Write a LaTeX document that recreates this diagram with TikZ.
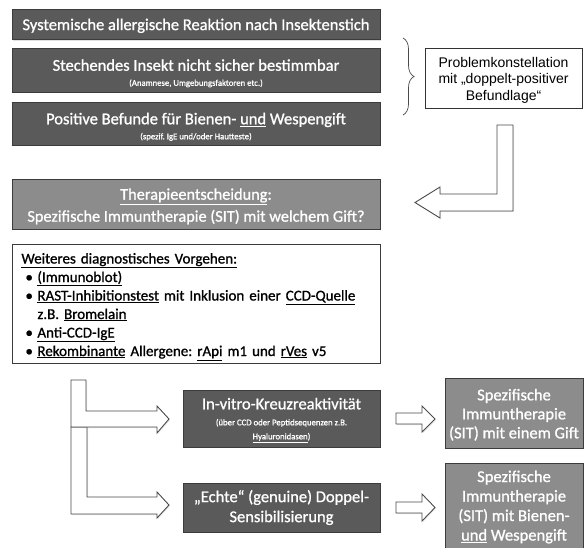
\documentclass[tikz,border=0pt]{standalone}
\usepackage{fontspec}
\setmainfont{Carlito}[FakeBold=1]
\newfontfamily\helv{Liberation Sans}
\usetikzlibrary{shadows,decorations.pathreplacing}
\definecolor{boxdark}{HTML}{5A5A5A}
\definecolor{boxlight}{HTML}{8C8C8C}
\definecolor{boxedge}{HTML}{3C3C3C}
\definecolor{arrowedge}{HTML}{4A4A4A}
\frenchspacing
\tikzset{
  base/.style={draw=boxedge, line width=0.9pt, inner sep=0pt, align=center,
    drop shadow={opacity=0.25, shadow xshift=1pt, shadow yshift=-1pt}},
  darkbox/.style={base, fill=boxdark, text=white},
  lightbox/.style={base, fill=boxlight, text=white},
  whitebox/.style={base, fill=white, text=black},
  blockarrow/.style={draw=arrowedge, fill=white, line width=0.9pt, line join=miter,
    drop shadow={opacity=0.2, shadow xshift=1pt, shadow yshift=-1pt}},
}
\newcommand\subtxt[1]{{\fontsize{8.7}{10}\selectfont #1}}
\newcommand\bul{\hspace*{4pt}\makebox[12pt][l]{\textbullet}}
\newcommand\strt[1]{\rule{0pt}{#1}}
\begin{document}
\begin{tikzpicture}[x=1pt,y=-1pt]
\useasboundingbox (0,0) rectangle (585,547);

% top boxes
\node[darkbox, font=\fontsize{16.5}{18}\selectfont, minimum width=368pt, minimum height=30pt] (b1) at (196,24.5)
  {\strt{14pt}Systemische allergische Reaktion nach Insektenstich};
\node[darkbox, font=\fontsize{16.5}{16}\selectfont, minimum width=368pt, minimum height=44pt] (b2) at (196,70)
  {\strt{18pt}Stechendes Insekt nicht sicher bestimmbar\\[-1pt]\subtxt{(Anamnese, Umgebungsfaktoren etc.)}};
\node[darkbox, font=\fontsize{16.5}{16}\selectfont, minimum width=368pt, minimum height=43pt] (b3) at (196,123.5)
  {\strt{18pt}Positive Befunde für Bienen- \underline{und} Wespengift\\[-1pt]\subtxt{(spezif. IgE und/oder Hautteste)}};

% brace and problem box
\coordinate (brtop) at (403,38);
\coordinate (brbot) at (403,115);
\draw[decorate, decoration={brace, amplitude=11pt}, line width=0.7pt, draw=arrowedge] (brtop) -- (brbot);
\node[whitebox, draw=black!80, line width=0.8pt, minimum width=157pt, minimum height=60pt,
  font=\helv\fontsize{14}{16.5}\selectfont] (prob) at (503.5,78)
  {\strt{14pt}Problemkonstellation\\mit „doppelt-positiver\\Befundlage“};

% therapy decision
\node[lightbox, minimum width=368pt, minimum height=50pt,
  font=\fontsize{16.3}{22}\selectfont] (ther) at (196,204)
  {\strt{16pt}\underline{Therapieentscheidung}:\\Spezifische Immuntherapie (SIT) mit welchem Gift?};

% L-shaped arrow from problem box to therapy box
\draw[blockarrow] (497,125) -- (513,125) -- (513,211) -- (440,211) -- (440,218)
  -- (415,202.5) -- (440,187) -- (440,194) -- (497,194) -- cycle;

% diagnostics box
\node[whitebox, anchor=north west, minimum width=368pt, minimum height=119pt,
  text width=350pt, align=left, inner xsep=9pt,
  font=\fontsize{15}{18.5}\selectfont] (diag) at (12,244)
  {\strt{16pt}\underline{Weiteres diagnostisches Vorgehen:}\\
   \bul\underline{(Immunoblot)}\\
   \bul\underline{RAST-Inhibitionstest} mit Inklusion einer \underline{CCD-Quelle}\\
   \hspace*{16pt}z.B. \underline{Bromelain}\\
   \bul\underline{Anti-CCD-IgE}\\
   \bul\underline{Rekombinante} Allergene: \underline{rApi} m1 und \underline{rVes} v5};

% branching arrows
\draw[blockarrow] (71,427) -- (87,427) -- (87,497) -- (157,497) -- (157,492)
  -- (169,505) -- (157,518) -- (157,514) -- (71,514) -- cycle;
\draw[blockarrow] (71,380) -- (86,380) -- (86,411) -- (157,411) -- (157,406)
  -- (169,419) -- (157,433) -- (157,427) -- (71,427) -- cycle;

% middle boxes
\node[darkbox, minimum width=197pt, minimum height=57pt, font=\fontsize{16.5}{15}\selectfont] (invitro) at (281.5,418.5)
  {\strt{15pt}In-vitro-Kreuzreaktivität\\[1pt]
   \subtxt{(über CCD oder Peptidsequenzen z.B.}\\[-1pt]\subtxt{\underline{Hyaluronidasen})}};
\node[darkbox, minimum width=197pt, minimum height=49pt,
  font=\fontsize{16.5}{20}\selectfont] (echt) at (281.5,507.5)
  {„Echte“ (genuine) Doppel-\\Sensibilisierung};

% small arrows
\draw[blockarrow] (396,413) -- (422,413) -- (422,406) -- (435,419) -- (422,432)
  -- (422,424) -- (396,424) -- cycle;
\draw[blockarrow] (396,502) -- (422,502) -- (422,494) -- (435,507.5) -- (422,521)
  -- (422,513) -- (396,513) -- cycle;

% right result boxes
\node[lightbox, minimum width=138pt, minimum height=70pt,
  font=\fontsize{16.5}{19}\selectfont] (sit1) at (514,413)
  {\strt{15pt}Spezifische\\Immuntherapie\\(SIT) mit einem Gift};
\node[lightbox, anchor=north, minimum width=138pt, minimum height=87pt,
  font=\fontsize{16.5}{19.5}\selectfont] (sit2) at (514,463)
  {Spezifische\\Immuntherapie\\(SIT) mit Bienen-\\\underline{und} Wespengift};
\end{tikzpicture}
\end{document}
